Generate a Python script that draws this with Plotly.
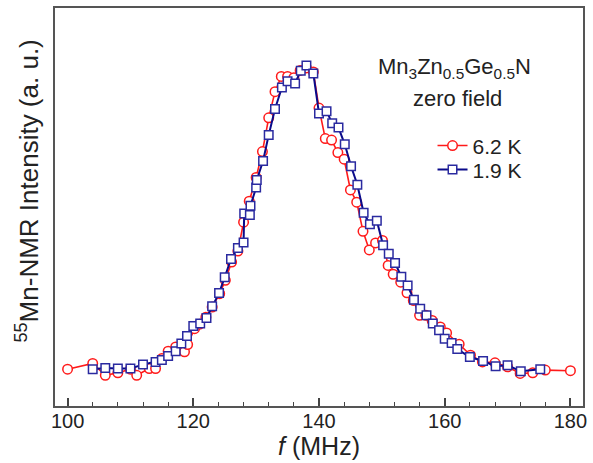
import plotly.graph_objects as go

# 55Mn zero-field NMR spectra of Mn3Zn0.5Ge0.5N (normalised intensity)
freq_62K = [100, 104, 106, 108, 110, 111, 113, 114, 115, 116, 117.2, 118.6, 119.1,
            120.2, 121, 122, 123, 124.2, 125.1, 126.1, 127.1, 128, 128.9, 130, 131,
            132, 133, 134, 135, 136, 137, 138, 139.1, 140, 141, 142, 143, 144, 145,
            146, 147, 148, 149, 150.1, 151, 151.8, 153, 154, 155, 156, 157, 158,
            159.3, 160.3, 162.3, 164.1, 166, 168, 170, 172, 174, 176, 180]
int_62K = [0.000, 0.019, -0.020, -0.012, 0.000, -0.020, 0.002, 0.002, 0.035, 0.059,
           0.073, 0.057, 0.081, 0.133, 0.148, 0.171, 0.204, 0.248, 0.292, 0.352,
           0.388, 0.483, 0.552, 0.630, 0.715, 0.826, 0.912, 0.962, 0.962, 0.958,
           0.982, 0.990, 0.977, 0.858, 0.758, 0.753, 0.712, 0.690, 0.589, 0.549,
           0.453, 0.392, 0.415, 0.423, 0.341, 0.312, 0.286, 0.251, 0.226, 0.177,
           0.177, 0.160, 0.139, 0.119, 0.082, 0.046, 0.024, 0.021, 0.008, -0.014,
           -0.012, -0.003, -0.005]

freq_19K = [104, 106, 108, 110, 112, 114, 115, 116, 117.2, 118.1, 119, 120, 121.1,
            122.1, 123, 124.1, 125, 126, 127.1, 128, 128.1, 129, 129.1, 130, 130.1,
            131.1, 132, 133, 134.1, 135, 136.2, 137.1, 138, 139.1, 140, 141.2, 142.1,
            143.1, 144.1, 145.1, 146.1, 147.1, 148.1, 149.2, 150.2, 151.1, 152.1,
            153.1, 154.1, 155.1, 156.1, 157.1, 158.1, 159.1, 160, 161.1, 162, 164,
            166.1, 168.1, 170, 172.1, 175.2]
int_19K = [0.000, 0.004, 0.002, 0.002, 0.015, 0.024, 0.030, 0.043, 0.059, 0.084,
           0.109, 0.142, 0.150, 0.168, 0.207, 0.250, 0.302, 0.362, 0.398, 0.416,
           0.512, 0.507, 0.537, 0.597, 0.622, 0.684, 0.770, 0.855, 0.926, 0.946,
           0.939, 0.981, 0.998, 0.972, 0.840, 0.848, 0.808, 0.794, 0.739, 0.667,
           0.606, 0.514, 0.476, 0.488, 0.407, 0.379, 0.349, 0.304, 0.275, 0.228,
           0.199, 0.177, 0.150, 0.128, 0.100, 0.086, 0.066, 0.040, 0.027, 0.010,
           0.013, -0.007, 0.000]

x_ticks = [100, 120, 140, 160, 180]

FONT = "Arial, Liberation Sans, sans-serif"
TXT = "#222"
RED = "#FF1A1A"
NAVY = "#0A0A8A"

fig = go.Figure()
fig.add_trace(go.Scatter(
    x=freq_62K, y=int_62K, mode="lines+markers", name="6.2 K", legend="legend",
    line=dict(color=RED, width=1.6),
    marker=dict(symbol="circle", size=9.5, color="white",
                line=dict(color=RED, width=1.5)),
))
fig.add_trace(go.Scatter(
    x=freq_19K, y=int_19K, mode="lines+markers", name="1.9 K", legend="legend2",
    line=dict(color=NAVY, width=2),
    marker=dict(symbol="square", size=8.5, color="white",
                line=dict(color="#2A2AA0", width=1.5)),
))

# sample label
fig.add_annotation(
    text="Mn<sub>3</sub>Zn<sub>0.5</sub>Ge<sub>0.5</sub>N",
    xref="paper", yref="paper", x=0.756, y=0.849, showarrow=False,
    xanchor="center", yanchor="middle", font=dict(family=FONT, size=22, color=TXT),
)
fig.add_annotation(
    text="zero field",
    xref="paper", yref="paper", x=0.762, y=0.772, showarrow=False,
    xanchor="center", yanchor="middle", font=dict(family=FONT, size=22, color=TXT),
)
# y-axis label
fig.add_annotation(
    text="<sup>55</sup>Mn-NMR Intensity (a. u.)",
    xref="paper", yref="paper", x=-0.052, y=0.54, showarrow=False,
    xanchor="center", yanchor="middle", textangle=-90,
    font=dict(family=FONT, size=26, color=TXT),
)

legend_style = dict(
    xanchor="left", yanchor="top",
    bgcolor="rgba(0,0,0,0)", borderwidth=0,
    font=dict(family=FONT, size=21, color=TXT),
    itemwidth=30,
)

fig.update_layout(
    width=593, height=463,
    margin=dict(l=55, r=6, t=7, b=57),
    paper_bgcolor="white", plot_bgcolor="white",
    font=dict(family=FONT, size=20, color=TXT),
    showlegend=True,
    legend=dict(x=0.715, y=0.705, **legend_style),
    legend2=dict(x=0.715, y=0.645, **legend_style),
    xaxis=dict(
        range=[98, 182], tickvals=x_ticks,
        ticks="inside", ticklen=8, tickwidth=1.5, tickcolor="#444",
        minor=dict(ticks="inside", dtick=4, tick0=100, ticklen=4,
                   tickwidth=1.2, tickcolor="#444"),
        showline=True, linecolor="#555", linewidth=2, mirror=True,
        showgrid=False, zeroline=False,
        ticklabelstandoff=-4,
        tickfont=dict(family=FONT, size=20, color=TXT),
        title=dict(text="<i>f</i> (MHz)", font=dict(family=FONT, size=25, color=TXT),
                   standoff=4),
    ),
    yaxis=dict(
        range=[-0.121, 1.187],
        showticklabels=False, ticks="",
        showline=True, linecolor="#555", linewidth=2, mirror=True,
        showgrid=False, zeroline=False,
    ),
)

fig.write_html("out.html")
